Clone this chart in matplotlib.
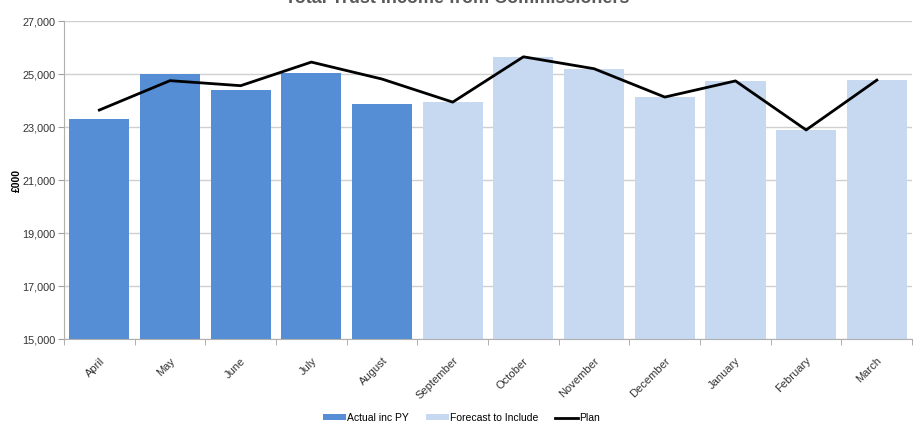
import numpy as np
import matplotlib.pyplot as plt

plt.rcParams['font.family'] = ['Liberation Sans', 'DejaVu Sans']

months = ["April", "May", "June", "July", "August", "September",
          "October", "November", "December", "January", "February", "March"]
actual = [23300, 25000, 24400, 25030, 23870]
forecast = [23940, 25650, 25190, 24130, 24740, 22890, 24770]
plan = [23640, 24750, 24560, 25450, 24810, 23940,
        25650, 25200, 24130, 24740, 22890, 24770]

x = np.arange(len(months))
n_act = len(actual)

fig = plt.figure(figsize=(9.14, 4.30), dpi=100)
ax = fig.add_axes([0.070, 0.2116, 0.928, 0.7395])

b1 = ax.bar(x[:n_act], actual, width=0.85, color="#558ED5", label="Actual inc PY", zorder=2)
b2 = ax.bar(x[n_act:], forecast, width=0.85, color="#C6D9F1", label="Forecast to Include", zorder=2)
l1, = ax.plot(x, plan, color="black", lw=2, label="Plan", zorder=3)

ax.set_ylim(15000, 27000)
ax.set_xlim(-0.5, len(months) - 0.5)
ax.set_yticks(np.arange(15000, 27001, 2000))
ax.set_yticklabels([f"{v:,}" for v in range(15000, 27001, 2000)], fontsize=7.8, color="#333333")
ax.yaxis.grid(True, color="#d0d0d0", lw=1, zorder=0)

# month names centred under bars, tick marks on category boundaries
ax.set_xticks(x)
ax.set_xticklabels(months, rotation=45, ha="right", rotation_mode="anchor", fontsize=8, color="#333333")
ax.tick_params(axis="x", length=0, pad=12)
ax.set_xticks(np.arange(-0.5, len(months)), minor=True)
ax.tick_params(axis="x", which="minor", length=4, color="#a0a0a0")
ax.tick_params(axis="y", length=4, color="#a0a0a0", pad=2)

for s in ["top", "right"]:
    ax.spines[s].set_visible(False)
for s in ["left", "bottom"]:
    ax.spines[s].set_color("#b0b0b0")

ax.set_ylabel("£000", fontsize=7.5, fontweight="bold")
ax.yaxis.set_label_coords(-0.05, 0.5)

fig.text(0.5, 0.993, "Total Trust Income from Commissioners", ha="center", va="baseline",
         fontsize=13, fontweight="bold", color="#595959")

fig.legend(handles=[b1, b2, l1], loc="center", bbox_to_anchor=(0.505, 0.028), ncol=3, frameon=False,
           fontsize=7.5, handlelength=2.2, handleheight=0.5, columnspacing=1.6, handletextpad=0.1)

fig.savefig("out.png", dpi=100)
